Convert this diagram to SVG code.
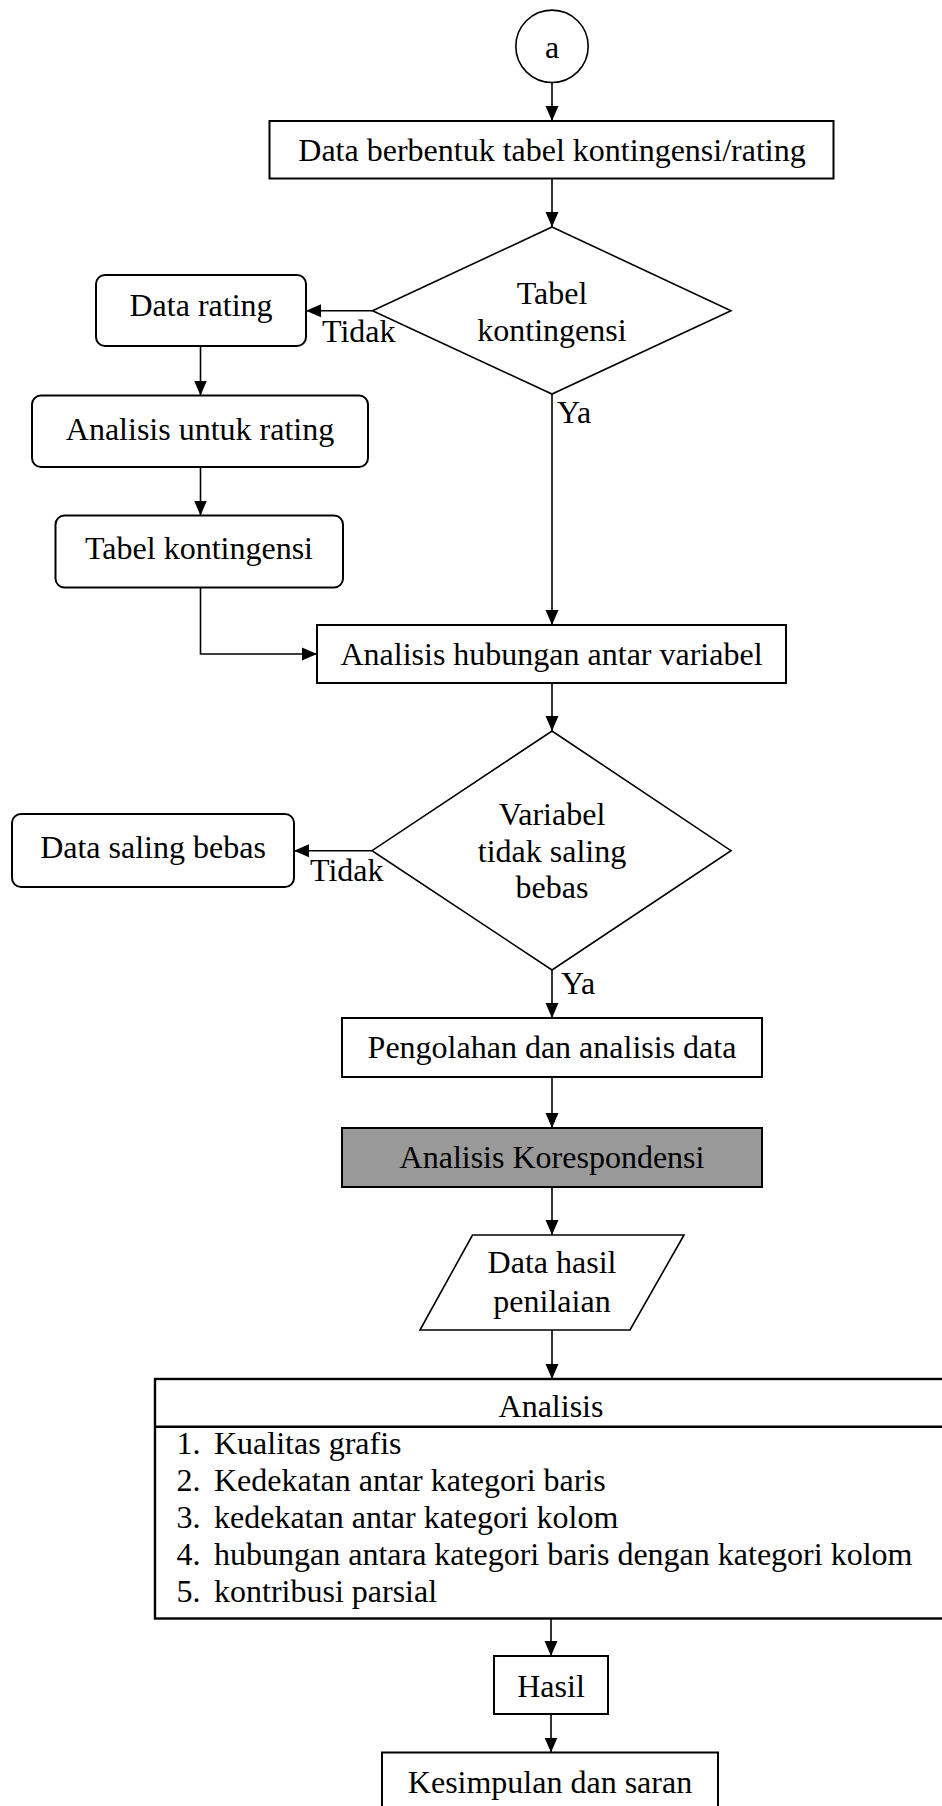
<svg xmlns="http://www.w3.org/2000/svg" width="942" height="1806" viewBox="0 0 942 1806">
<style>
text{font-family:"Liberation Serif","Times New Roman",serif;font-size:32px;fill:#000}
.c{text-anchor:middle}
.box{fill:#fff;stroke:#000;stroke-width:2}
.dia{fill:#fff;stroke:#000;stroke-width:1.6}
.ln{fill:none;stroke:#000;stroke-width:1.6}
</style>
<defs>
<marker id="ah" markerUnits="userSpaceOnUse" markerWidth="16" markerHeight="16" viewBox="0 0 16 16" refX="15" refY="8" orient="auto">
<path d="M0,1.5 L15,8 L0,14.5 Z" fill="#000"/>
</marker>
</defs>
<rect width="942" height="1806" fill="#fff"/>
<g id="connectors">
<line class="ln" x1="552" y1="82.5" x2="552" y2="121" marker-end="url(#ah)"/>
<line class="ln" x1="552" y1="178.5" x2="552" y2="227" marker-end="url(#ah)"/>
<line class="ln" x1="372.5" y1="310.7" x2="306" y2="310.7" marker-end="url(#ah)"/>
<line class="ln" x1="200.5" y1="346" x2="200.5" y2="395.5" marker-end="url(#ah)"/>
<line class="ln" x1="200.5" y1="467" x2="200.5" y2="515.5" marker-end="url(#ah)"/>
<polyline class="ln" points="200.5,587.5 200.5,654 317,654" marker-end="url(#ah)"/>
<line class="ln" x1="552" y1="394" x2="552" y2="625" marker-end="url(#ah)"/>
<line class="ln" x1="552" y1="683" x2="552" y2="731" marker-end="url(#ah)"/>
<line class="ln" x1="372" y1="850.7" x2="294" y2="850.7" marker-end="url(#ah)"/>
<line class="ln" x1="552" y1="970" x2="552" y2="1018" marker-end="url(#ah)"/>
<line class="ln" x1="552" y1="1077" x2="552" y2="1128" marker-end="url(#ah)"/>
<line class="ln" x1="552" y1="1187" x2="552" y2="1235" marker-end="url(#ah)"/>
<line class="ln" x1="552" y1="1330" x2="552" y2="1379" marker-end="url(#ah)"/>
<line class="ln" x1="551" y1="1618.5" x2="551" y2="1656" marker-end="url(#ah)"/>
<line class="ln" x1="551" y1="1714" x2="551" y2="1752.5" marker-end="url(#ah)"/>
<text x="322" y="342">Tidak</text>
<text x="557" y="423">Ya</text>
<text x="310" y="881">Tidak</text>
<text x="561" y="994">Ya</text>
</g>
<g id="start">
<circle cx="552" cy="46.3" r="36.2" class="dia"/>
<text class="c" x="552" y="58">a</text>
</g>
<g id="data-berbentuk">
<rect class="box" x="269.5" y="121" width="564" height="57.5"/>
<text class="c" x="552" y="160.5">Data berbentuk tabel kontingensi/rating</text>
</g>
<g id="dec-tabel">
<polygon class="dia" points="552,227 731,310.7 552,394 372.5,310.7"/>
<text class="c" x="552" y="304">Tabel</text>
<text class="c" x="552" y="341">kontingensi</text>
</g>
<g id="data-rating">
<rect class="box" x="96" y="275" width="210" height="71" rx="9"/>
<text class="c" x="201" y="316">Data rating</text>
</g>
<g id="analisis-rating">
<rect class="box" x="32" y="395.5" width="336" height="71.5" rx="9"/>
<text class="c" x="200" y="440">Analisis untuk rating</text>
</g>
<g id="tabel-kontingensi">
<rect class="box" x="55.5" y="515.5" width="287.5" height="72" rx="9"/>
<text class="c" x="199" y="559">Tabel kontingensi</text>
</g>
<g id="analisis-hubungan">
<rect class="box" x="317" y="625" width="469" height="58"/>
<text class="c" x="551.5" y="665">Analisis hubungan antar variabel</text>
</g>
<g id="dec-variabel">
<polygon class="dia" points="552,731 731,850.7 552,970 372,850.7"/>
<text class="c" x="552" y="825">Variabel</text>
<text class="c" x="552" y="862">tidak saling</text>
<text class="c" x="552" y="898">bebas</text>
</g>
<g id="data-saling-bebas">
<rect class="box" x="12" y="814" width="282" height="73" rx="9"/>
<text class="c" x="153" y="858">Data saling bebas</text>
</g>
<g id="pengolahan">
<rect class="box" x="342" y="1018" width="420" height="59"/>
<text class="c" x="552" y="1058">Pengolahan dan analisis data</text>
</g>
<g id="analisis-korespondensi">
<rect class="box" x="342" y="1128" width="420" height="59" fill="#999999" style="fill:#999999"/>
<text class="c" x="552" y="1168">Analisis Korespondensi</text>
</g>
<g id="data-hasil">
<polygon class="dia" points="472.5,1235 684,1235 630,1330 420,1330"/>
<text class="c" x="552" y="1273">Data hasil</text>
<text class="c" x="552" y="1311.5">penilaian</text>
</g>
<g id="analisis">
<rect class="box" x="155" y="1379" width="795" height="239.5" style="stroke-width:2.4"/>
<line x1="155" y1="1426.7" x2="950" y2="1426.7" stroke="#000" stroke-width="2.4"/>
<text class="c" x="551" y="1416.5">Analisis</text>
<text x="176.5" y="1454">1.</text><text x="214" y="1454">Kualitas grafis</text>
<text x="176.5" y="1491">2.</text><text x="214" y="1491">Kedekatan antar kategori baris</text>
<text x="176.5" y="1528">3.</text><text x="214" y="1528">kedekatan antar kategori kolom</text>
<text x="176.5" y="1564.5">4.</text><text x="214" y="1564.5">hubungan antara kategori baris dengan kategori kolom</text>
<text x="176.5" y="1601.5">5.</text><text x="214" y="1601.5">kontribusi parsial</text>
</g>
<g id="hasil">
<rect class="box" x="494" y="1656" width="114" height="58"/>
<text class="c" x="551" y="1696.5">Hasil</text>
</g>
<g id="kesimpulan">
<rect class="box" x="382" y="1752.5" width="336" height="65"/>
<text class="c" x="550" y="1793">Kesimpulan dan saran</text>
</g>
</svg>
